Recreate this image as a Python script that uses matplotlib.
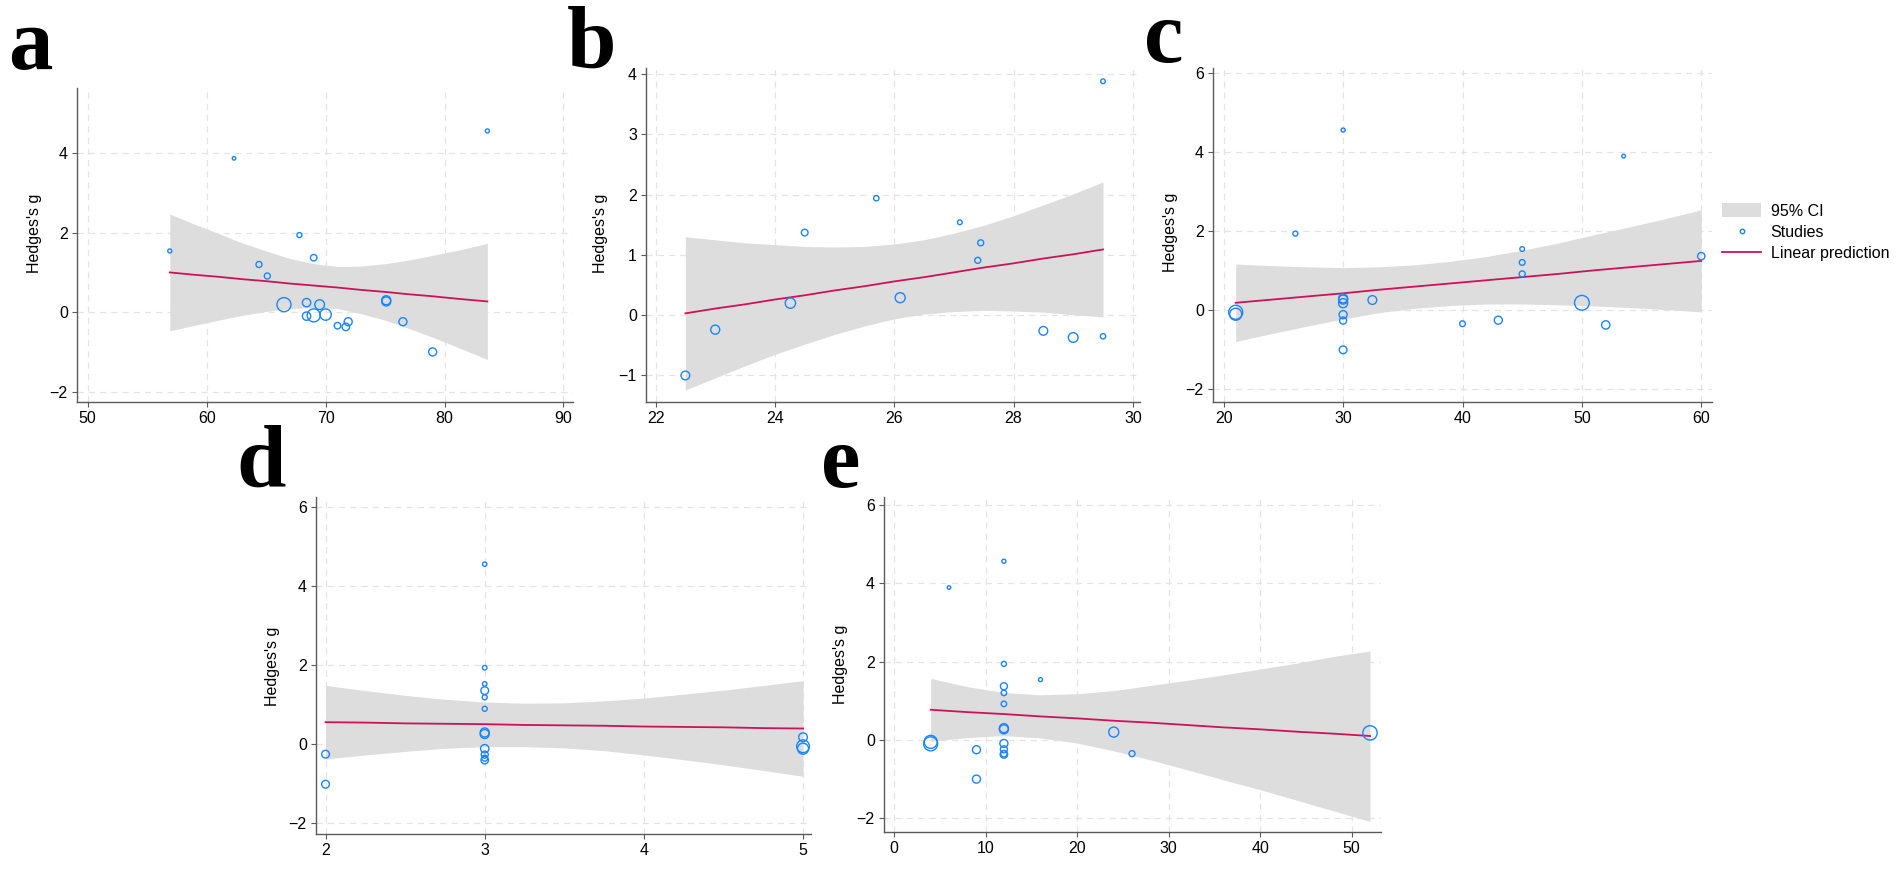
import numpy as np
import matplotlib
matplotlib.use("Agg")
import matplotlib.pyplot as plt
from matplotlib.patches import Patch
from matplotlib.lines import Line2D

plt.rcParams['font.family'] = ['Liberation Sans', 'DejaVu Sans']

W, H = 1902, 869

# ---- panel a ----
xa = [56.9, 62.3, 64.4, 65.1, 66.5, 67.8, 68.4, 68.4, 69.0, 69.0, 69.5, 70.0, 71.0, 71.7, 71.9, 75.1, 75.1, 76.5, 79.0, 83.6]
ya = [1.54, 3.87, 1.20, 0.91, 0.19, 1.94, 0.24, -0.10, 1.37, -0.08, 0.19, -0.06, -0.34, -0.37, -0.24, 0.30, 0.27, -0.24, -1.00, 4.56]
wa = [2.5, 2.0, 4.9, 4.9, 22.5, 3.6, 8.6, 8.6, 5.6, 19.6, 11.4, 15.1, 5.6, 7.2, 8.1, 10.0, 10.0, 8.1, 8.1, 2.5]
cia_x = [56.9, 59, 61, 63, 65, 67, 69, 71, 73, 75, 77, 79, 81, 83.6]
cia_fit = [1.00, 0.94, 0.89, 0.83, 0.78, 0.72, 0.67, 0.62, 0.56, 0.51, 0.45, 0.40, 0.34, 0.27]
cia_hi = [2.47, 2.21, 1.98, 1.74, 1.54, 1.35, 1.22, 1.15, 1.16, 1.22, 1.31, 1.43, 1.55, 1.73]
cia_lo = [-0.47, -0.33, -0.20, -0.08, 0.02, 0.09, 0.12, 0.09, -0.04, -0.20, -0.41, -0.63, -0.87, -1.19]

# ---- panel b ----
xb = [22.5, 23.0, 24.26, 24.5, 25.7, 26.1, 27.1, 27.45, 27.4, 28.5, 29.0, 29.5, 29.5]
yb = [-1.00, -0.24, 0.20, 1.37, 1.94, 0.29, 1.54, 1.20, 0.91, -0.26, -0.37, -0.35, 3.88]
wb = [9.4, 10.0, 12.8, 5.9, 4.0, 12.1, 3.2, 4.9, 4.9, 9.4, 11.4, 4.0, 3.2]
cib_x = [22.5, 23.0, 23.5, 24.0, 24.5, 25.0, 25.5, 26.0, 26.5, 27.0, 27.5, 28.0, 28.5, 29.0, 29.5]
cib_fit = [0.03, 0.11, 0.18, 0.26, 0.33, 0.41, 0.48, 0.56, 0.63, 0.71, 0.79, 0.86, 0.94, 1.01, 1.09]
cib_hi = [1.30, 1.25, 1.20, 1.17, 1.14, 1.13, 1.14, 1.18, 1.25, 1.36, 1.49, 1.65, 1.83, 2.01, 2.21]
cib_lo = [-1.24, -1.04, -0.84, -0.65, -0.48, -0.32, -0.18, -0.06, 0.02, 0.06, 0.08, 0.07, 0.05, 0.01, -0.03]

# ---- panel c ----
xc = [21, 21, 26.0, 30, 30, 30, 30, 30, 30, 30, 32.45, 40, 43, 45, 45, 45, 50, 52, 53.5, 60]
yc = [-0.05, -0.10, 1.94, 4.56, 0.30, 0.27, 0.18, -0.11, -0.26, -1.00, 0.26, -0.34, -0.25, 1.55, 1.21, 0.92, 0.19, -0.37, 3.90, 1.37]
wc = [22.5, 16.9, 3.6, 2.5, 10.0, 10.0, 10.0, 8.1, 6.4, 7.6, 9.4, 4.5, 8.1, 3.2, 4.5, 4.9, 24.6, 8.6, 2.2, 6.9]
cic_x = [21, 24, 27, 30, 33, 36, 39, 42, 45, 48, 51, 54, 57, 60]
cic_fit = [0.19, 0.27, 0.35, 0.43, 0.52, 0.60, 0.68, 0.76, 0.84, 0.92, 1.01, 1.09, 1.17, 1.25]
cic_hi = [1.17, 1.13, 1.10, 1.08, 1.10, 1.15, 1.24, 1.36, 1.52, 1.70, 1.91, 2.11, 2.32, 2.54]
cic_lo = [-0.79, -0.59, -0.40, -0.22, -0.06, 0.05, 0.12, 0.16, 0.16, 0.14, 0.11, 0.07, 0.02, -0.04]

# ---- panel d ----
xd = [2, 2, 3, 3, 3, 3, 3, 3, 3, 3, 3, 3, 3, 3, 5, 5, 5]
yd = [-0.25, -1.01, 4.56, 1.94, 1.53, 1.36, 1.19, 0.90, 0.30, 0.26, -0.11, -0.26, -0.35, -0.40, 0.18, -0.05, -0.11]
wd = [7.6, 7.6, 2.8, 3.0, 3.0, 7.6, 3.6, 3.6, 10.0, 10.0, 8.6, 6.4, 4.9, 7.2, 9.4, 18.8, 14.4]
cid_x = [2, 2.25, 2.5, 2.75, 3, 3.25, 3.5, 3.75, 4, 4.25, 4.5, 4.75, 5]
cid_fit = [0.56, 0.55, 0.53, 0.52, 0.51, 0.49, 0.48, 0.47, 0.45, 0.44, 0.43, 0.41, 0.40]
cid_hi = [1.49, 1.36, 1.24, 1.14, 1.07, 1.04, 1.05, 1.10, 1.17, 1.27, 1.37, 1.49, 1.61]
cid_lo = [-0.37, -0.27, -0.18, -0.10, -0.06, -0.06, -0.09, -0.16, -0.27, -0.39, -0.52, -0.66, -0.81]

# ---- panel e ----
xe = [4, 4, 6, 9, 9, 12, 12, 12, 12, 12, 12, 12, 12, 12, 12, 12, 16, 24, 26, 52]
ye = [-0.05, -0.10, 3.89, -0.25, -1.00, 4.56, 1.94, 1.37, 1.20, 0.92, 0.30, 0.27, -0.09, -0.24, -0.35, -0.37, 1.54, 0.20, -0.35, 0.18]
we = [19.6, 22.5, 2.0, 8.1, 8.1, 2.5, 3.6, 6.4, 4.2, 4.2, 10.0, 10.0, 8.1, 6.4, 5.6, 7.2, 2.5, 12.1, 4.9, 23.4]
cie_x = [4, 8, 12, 16, 20, 24, 28, 32, 36, 40, 44, 48, 52]
cie_fit = [0.77, 0.71, 0.66, 0.60, 0.55, 0.49, 0.44, 0.38, 0.32, 0.27, 0.21, 0.16, 0.10]
cie_hi = [1.57, 1.36, 1.21, 1.15, 1.18, 1.26, 1.39, 1.52, 1.66, 1.81, 1.96, 2.13, 2.27]
cie_lo = [-0.03, 0.06, 0.11, 0.05, -0.08, -0.28, -0.51, -0.76, -1.02, -1.27, -1.54, -1.81, -2.08]

BLUE = '#1a85ff'
RED = '#d0105a'
CI_GRAY = '#dddddd'
AXC = '#5a5a5a'


def rect(l, t, r, b):
    return [l / W, 1 - b / H, (r - l) / W, (b - t) / H]


def panel(box, x, y, w, cx, cfit, chi, clo, xlim, ylim, xticks, yticks, ylab_pos):
    ax = fig.add_axes(rect(*box))
    ax.fill_between(cx, clo, chi, color=CI_GRAY, lw=0, zorder=1)
    ax.plot(cx, cfit, color=RED, lw=1.3, zorder=2)
    sz = (0.72 * np.sqrt(10 * np.array(w)) - 0.7) ** 2
    ax.scatter(x, y, s=sz, facecolors='none', edgecolors=BLUE, linewidths=1.0, zorder=3)
    ax.set_xlim(*xlim)
    ax.set_ylim(*ylim)
    ax.set_xticks(xticks)
    ax.set_yticks(yticks)
    ax.grid(True, color='#e4e4e4', ls=(0, (5, 4)), lw=0.9, zorder=0)
    ax.set_axisbelow(True)
    for s in ['top', 'right']:
        ax.spines[s].set_visible(False)
    for s in ['left', 'bottom']:
        ax.spines[s].set_color(AXC)
        ax.spines[s].set_linewidth(1.0)
    ax.tick_params(direction='out', length=3.6, width=0.8, color=AXC,
                   labelsize=11.5, pad=3, labelcolor='black')
    fig.text(ylab_pos[0] / W, 1 - ylab_pos[1] / H, "Hedges's g", rotation=90,
             ha='center', va='center', fontsize=11.5)
    return ax


fig = plt.figure(figsize=(W / 100, H / 100), dpi=100)

panel((77, 88, 573, 402), xa, ya, wa, cia_x, cia_fit, cia_hi, cia_lo,
      (49.1, 90.8), (-2.26, 5.64), [50, 60, 70, 80, 90], [-2, 0, 2, 4], (34, 233))
panel((646, 68, 1140, 402), xb, yb, wb, cib_x, cib_fit, cib_hi, cib_lo,
      (21.84, 30.12), (-1.44, 4.1), [22, 24, 26, 28, 30], [-1, 0, 1, 2, 3, 4], (601, 233))
panel((1213, 68, 1712, 402), xc, yc, wc, cic_x, cic_fit, cic_hi, cic_lo,
      (19.1, 60.9), (-2.32, 6.13), [20, 30, 40, 50, 60], [-2, 0, 2, 4, 6], (1170, 232))
panel((316, 497, 811, 834), xd, yd, wd, cid_x, cid_fit, cid_hi, cid_lo,
      (1.94, 5.05), (-2.27, 6.26), [2, 3, 4, 5], [-2, 0, 2, 4, 6], (272, 666))
panel((884, 497, 1381, 832), xe, ye, we, cie_x, cie_fit, cie_hi, cie_lo,
      (-1.1, 53.2), (-2.35, 6.2), [0, 10, 20, 30, 40, 50], [-2, 0, 2, 4, 6], (840, 664))

# panel letters
for lab, px, py in [('a', 8, 69), ('b', 567, 68), ('c', 1144, 62), ('d', 236, 487), ('e', 821, 487)]:
    fig.text(px / W, 1 - py / H, lab, fontsize=64, fontweight='bold',
             family='Liberation Serif', ha='left', va='baseline')

handles = [Patch(facecolor=CI_GRAY, edgecolor='none'),
           Line2D([], [], ls='none', marker='o', markersize=3.2, markerfacecolor='none',
                  markeredgecolor=BLUE, markeredgewidth=1.0),
           Line2D([], [], color=RED, lw=1.3)]
fig.legend(handles, ['95% CI', 'Studies', 'Linear prediction'],
           loc='center left', bbox_to_anchor=(1722 / W, 1 - 232 / H),
           frameon=False, fontsize=11.5, handlelength=2.45, handleheight=1.0,
           handletextpad=0.6, labelspacing=0.35, borderaxespad=0, borderpad=0)

fig.savefig('out.png', dpi=100)
